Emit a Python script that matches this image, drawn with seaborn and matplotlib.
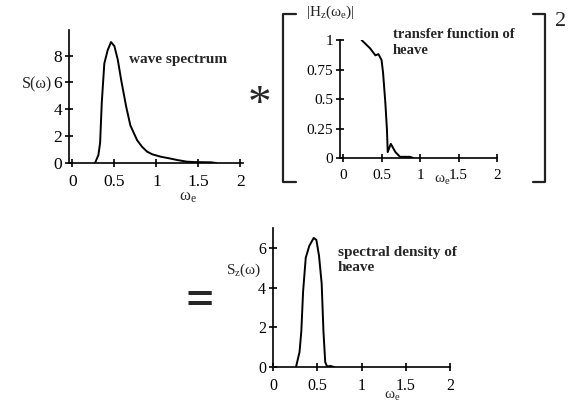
import numpy as np
import pandas as pd
import matplotlib
matplotlib.use("Agg")
import matplotlib.pyplot as plt
import seaborn as sns
from matplotlib.lines import Line2D

# wave spectrum S(w)
w_wave = [0.27, 0.31, 0.33, 0.35, 0.38, 0.42, 0.46, 0.50, 0.54, 0.58, 0.64, 0.69,
          0.77, 0.83, 0.89, 0.95, 1.05, 1.15, 1.25, 1.36, 1.45, 1.55, 1.65, 1.71]
s_wave = [0.0, 0.6, 1.5, 4.5, 7.4, 8.4, 9.0, 8.7, 7.7, 6.2, 4.2, 2.8,
          1.7, 1.2, 0.84, 0.65, 0.47, 0.35, 0.22, 0.10, 0.07, 0.06, 0.05, 0.0]

# transfer function of heave |Hz(we)|
w_rao = [0.24, 0.35, 0.42, 0.46, 0.50, 0.52, 0.55, 0.57, 0.58, 0.62, 0.68, 0.74, 0.87, 0.91]
h_rao = [1.0, 0.93, 0.87, 0.88, 0.83, 0.72, 0.46, 0.24, 0.05, 0.12, 0.05, 0.01, 0.01, 0.0]

# spectral density of heave Sz(w)
w_heave = [0.26, 0.30, 0.32, 0.34, 0.37, 0.41, 0.46, 0.49, 0.52, 0.55, 0.57, 0.59, 0.61, 0.65, 0.69]
s_heave = [0.0, 0.76, 1.8, 3.8, 5.5, 6.1, 6.5, 6.4, 5.6, 4.2, 1.8, 0.25, 0.03, 0.05, 0.0]

x_ticks = [0, 0.5, 1, 1.5, 2]
x_labels = ["0", "0.5", "1", "1.5", "2"]

sns.set_theme(style="ticks")
plt.rcParams["font.family"] = ["Liberation Serif", "DejaVu Serif"]
plt.rcParams["mathtext.fontset"] = "custom"
plt.rcParams["mathtext.rm"] = "Liberation Serif"
plt.rcParams["mathtext.it"] = "Liberation Serif:italic"
plt.rcParams["mathtext.bf"] = "Liberation Serif:bold"

W, H = 575, 404
fig = plt.figure(figsize=(W / 100, H / 100), dpi=100)
fig.patch.set_facecolor("white")


def px_axes(left, right, top, bottom):
    return fig.add_axes([left / W, 1 - bottom / H, (right - left) / W, (bottom - top) / H])


def style(ax, size):
    sns.despine(ax=ax)
    for s in ["left", "bottom"]:
        ax.spines[s].set_linewidth(1.2)
        ax.spines[s].set_color("black")
    ax.tick_params(direction="inout", length=6, width=1.2, colors="black",
                   labelsize=size, pad=2)
    ax.tick_params(axis="x", pad=5)
    ax.set_facecolor("white")
    ax.set_xlabel("")
    ax.set_ylabel("")


ax1 = px_axes(69, 243, 30, 163)
sns.lineplot(x=w_wave, y=s_wave, ax=ax1, color="black", linewidth=1.4, sort=False)
ax1.set_xlim(-0.04, 2.03)
ax1.set_ylim(0, 9.9)
ax1.set_xticks(x_ticks, x_labels)
ax1.set_yticks([0, 2, 4, 6, 8])
style(ax1, 12.5)

ax2 = px_axes(340, 497, 40, 158)
sns.lineplot(x=w_rao, y=h_rao, ax=ax2, color="black", linewidth=1.4, sort=False)
ax2.set_xlim(-0.04, 2.0)
ax2.set_ylim(0, 1.0)
ax2.set_xticks(x_ticks, x_labels)
ax2.set_yticks([0, 0.25, 0.5, 0.75, 1], ["0", "0.25", "0.5", "0.75", "1"])
style(ax2, 11)

ax3 = px_axes(273, 450, 228, 367)
sns.lineplot(x=w_heave, y=s_heave, ax=ax3, color="black", linewidth=1.4, sort=False)
ax3.set_xlim(0, 2.0)
ax3.set_ylim(0, 7.0)
ax3.set_xticks(x_ticks, x_labels)
ax3.set_yticks([0, 2, 4, 6])
style(ax3, 11.5)


def ftext(x, y, s, **kw):
    fig.text(x / W, 1 - y / H, s, **kw)


# axis labels
ftext(37, 84, "S(ω)", fontsize=11.5, ha="center", va="center")
ftext(188, 197, r"$\mathrm{ω_e}$", fontsize=12, ha="center", va="center")
ftext(330, 12, r"$\mathrm{|H_z(ω_e)|}$", fontsize=11, ha="center", va="center")
ftext(442, 180, r"$\mathrm{ω_e}$", fontsize=11, ha="center", va="center")
ftext(244, 270, r"$\mathrm{S_z(ω)}$", fontsize=11, ha="center", va="center")
ftext(392, 396, r"$\mathrm{ω_e}$", fontsize=11, ha="center", va="center")

# annotations
ftext(129, 59, "wave spectrum", fontsize=11, fontweight="bold", ha="left", va="center")
ftext(393, 43, "transfer function of\nheave", fontsize=10.5, fontweight="bold",
      ha="left", va="center", linespacing=1.3)
ftext(338, 260, "spectral density of\nheave", fontsize=11, fontweight="bold",
      ha="left", va="center", linespacing=1.15)

# operators
ftext(260, 106, "*", fontsize=34, ha="center", va="center")
ftext(200, 302, "=", fontsize=36, fontweight="bold", ha="center", va="center")
ftext(561, 21, "2", fontsize=16, ha="center", va="center")

# square brackets
for xs, ys in [([296, 283, 283, 296], [14, 14, 182, 182]),
               ([533, 545, 545, 533], [14, 14, 182, 182])]:
    fig.add_artist(Line2D([x / W for x in xs], [1 - y / H for y in ys],
                          transform=fig.transFigure, color="#222222", linewidth=1.6))

fig.savefig("out.png", dpi=100, facecolor="white")
